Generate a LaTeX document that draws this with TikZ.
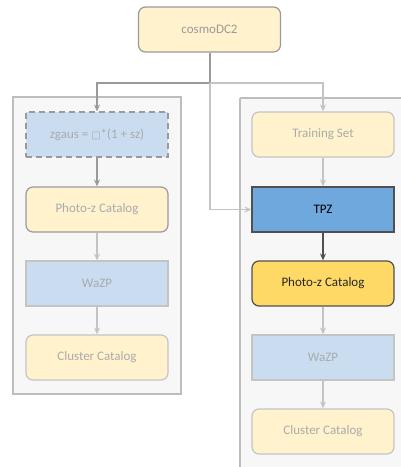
\documentclass[tikz,border=0pt]{standalone}
\usepackage{fontspec}
\setmainfont{Carlito}
\newfontfamily\symfont{DejaVu Sans}
\usetikzlibrary{arrows.meta}

\definecolor{panelfill}{HTML}{F7F7F7}
\definecolor{panelline}{HTML}{BDBDBD}
\definecolor{paleyellow}{HTML}{FFF2CC}
\definecolor{paleblue}{HTML}{C9DCF0}
\definecolor{tpzblue}{HTML}{6FA8DC}
\definecolor{gold}{HTML}{FFD966}
\definecolor{midgray}{HTML}{9A9A9A}
\definecolor{lightgray}{HTML}{C4C4C4}
\definecolor{fadetext}{HTML}{ABABAB}
\definecolor{darkline}{HTML}{505050}

\tikzset{
  x=1pt, y=-1pt,
  every node/.style={font=\fontsize{13}{15}\selectfont, inner sep=0pt},
  panel/.style={draw=panelline, fill=panelfill, line width=1.3pt},
  box/.style={minimum width=142pt, minimum height=45pt, line width=1.2pt, align=center},
  softbox/.style={box, rounded corners=7pt, fill=paleyellow, draw=lightgray, text=fadetext},
  midbox/.style={box, rounded corners=7pt, fill=paleyellow, draw=midgray, text=fadetext},
  flatbox/.style={box, fill=paleblue, draw=lightgray, text=fadetext},
  tip/.style={-{Stealth[length=7pt,width=6pt,inset=2.5pt]}},
  lightflow/.style={tip, draw=lightgray, line width=1.3pt},
  midflow/.style={tip, draw=midgray, line width=1.3pt},
  darkflow/.style={tip, draw=darkline, line width=1.5pt},
}

\begin{document}
\begin{tikzpicture}
\useasboundingbox (0,0) rectangle (401,467);

% background panels
\draw[panel] (13,97) rectangle (181,394);
\draw[panel] (240,98) -- (401.5,98) (240,98) -- (240,468);
\fill[panelfill] (240.7,98.7) rectangle (402,468);

% source
\node[midbox, text=midgray] (src) at (209.5,29.5) {cosmoDC2};

% left pipeline
\node[box, fill=paleblue, draw=midgray, dashed, dash pattern=on 6pt off 4pt, text=fadetext] (zg) at (97,134.5)
  {zgaus = {\symfont\fontsize{10}{12}\selectfont □}*(1 + sz)};
\node[midbox] (lpz) at (97,209.5) {Photo-z Catalog};
\node[flatbox] (lwz) at (97,283.5) {WaZP};
\node[softbox] (lcc) at (97,357.5) {Cluster Catalog};

% right pipeline
\node[softbox] (ts) at (323,134.5) {Training Set};
\node[box, fill=tpzblue, draw=darkline, text=black] (tpz) at (323,209.5) {TPZ};
\node[box, rounded corners=7pt, fill=gold, draw=darkline, text=black!85] (rpz) at (323,283.5) {Photo-z Catalog};
\node[flatbox] (rwz) at (323,357.5) {WaZP};
\node[softbox] (rcc) at (323,431.5) {Cluster Catalog};

% branching from the source
\coordinate (split) at (210,83);
\draw[midgray, line width=1.3pt] (src.south -| split) -- (split);
\draw[midflow] (split) -| (zg.north);
\draw[lightflow] (split) -| (ts.north);
\draw[lightflow] (split) |- (tpz.west);

% chains
\draw[midflow] (zg) -- (lpz);
\draw[lightflow] (lpz) -- (lwz);
\draw[lightflow] (lwz) -- (lcc);
\draw[lightflow] (ts) -- (tpz);
\draw[darkflow] (tpz) -- (rpz);
\draw[lightflow] (rpz) -- (rwz);
\draw[lightflow] (rwz) -- (rcc);
\end{tikzpicture}
\end{document}
